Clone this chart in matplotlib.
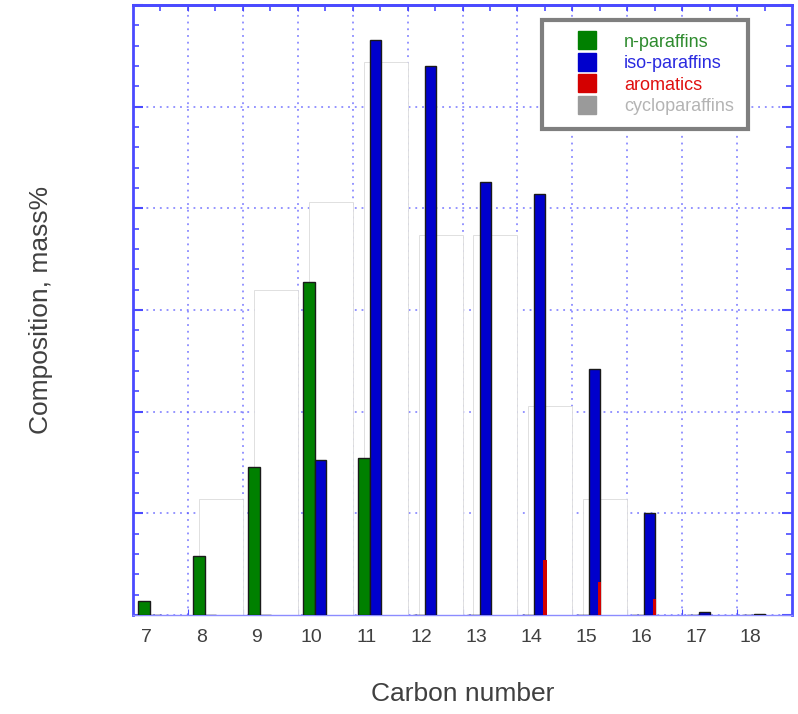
import numpy as np
import matplotlib
matplotlib.use('Agg')
import matplotlib.pyplot as plt
from matplotlib.lines import Line2D

plt.rcParams['font.family'] = ['Liberation Sans', 'DejaVu Sans']

# --- DATOS (mass%) ---
carbonos = [7, 8, 9, 10, 11, 12, 13, 14, 15, 16, 17, 18]
n_parafinas = [0.7, 2.9, 7.3, 16.4, 7.7, 0, 0, 0, 0, 0, 0, 0]
iso_parafinas = [0.0, 0.0, 0.0, 7.6, 28.3, 27.0, 21.3, 20.7, 12.1, 5.0, 0.15, 0.05]
aromaticos = [0, 0, 0, 0, 0, 0, 0, 2.7, 1.6, 0.8, 0, 0]
ciclo_parafinas = [0, 5.7, 16.0, 20.3, 27.2, 18.7, 18.7, 10.3, 5.7, 0, 0, 0]

nombres = ['n-paraffins', 'iso-paraffins', 'aromatics', 'cycloparaffins']
colores = ['#008000', '#0000cc', '#d40000', '#9a9a9a']
colores_texto = ['#2e8b2e', '#2a2ae0', '#e01010', '#b4b4b4']

AZUL_EJE = '#4a4aff'
x = np.array(carbonos, dtype=float)

fig = plt.figure(figsize=(7.98, 7.14), dpi=100)
ax = fig.add_axes([133 / 798, 1 - 615 / 714, 659 / 798, 610 / 714])

# ciclo-parafinas: barras blancas detras, solo un contorno gris muy tenue
ax.bar(x - 0.05, ciclo_parafinas, width=0.8, align='edge', color='white',
       edgecolor='#dadada', linewidth=0.6, zorder=2)
ax.bar(x - 0.16, n_parafinas, width=0.22, align='edge', color=colores[0],
       edgecolor='#1a1a1a', linewidth=1.0, zorder=3)
ax.bar(x + 0.06, iso_parafinas, width=0.20, align='edge', color=colores[1],
       edgecolor='#1a1a1a', linewidth=1.0, zorder=3)
ax.bar(x + 0.22, aromaticos, width=0.06, align='edge', color=colores[2],
       linewidth=0, zorder=4)

ax.set_xlim(6.75, 18.75)
ax.set_ylim(0, 30)

# grilla: lineas verticales entre carbonos, horizontales cada 5
ax.set_xticks(np.arange(7.75, 18.0, 1.0))
ax.set_xticklabels([])
ax.set_xticks(x, minor=True)
ax.set_xticklabels([str(c) for c in carbonos], minor=True)
ax.set_yticks(np.arange(0, 31, 5))
ax.set_yticks(np.arange(0, 31, 1), minor=True)
ax.set_yticklabels([])

ax.grid(True, which='major', color=AZUL_EJE, linestyle=(0, (1.2, 3.2)),
        linewidth=1.1, alpha=0.75, zorder=0)
ax.set_axisbelow(True)

ax.tick_params(axis='x', which='minor', length=0, pad=10,
               labelsize=14, labelcolor='#404040')
ax.tick_params(axis='x', which='major', direction='in', length=4,
               color=AZUL_EJE, bottom=True, top=True)
ax.tick_params(axis='y', which='major', direction='in', length=7, width=1.5,
               color=AZUL_EJE, left=True, right=True)
ax.tick_params(axis='y', which='minor', direction='in', length=4, width=1.2,
               color=AZUL_EJE, left=True, right=True)

secx = ax.secondary_xaxis('top')
secx.set_xticks(np.arange(7.25, 18.75, 0.5))
secx.tick_params(direction='in', length=4, width=1.2, color=AZUL_EJE,
                 labeltop=False)
secx.spines['top'].set_color(AZUL_EJE)
secx.spines['top'].set_linewidth(2)

for lado in ['left', 'right', 'top']:
    ax.spines[lado].set_color(AZUL_EJE)
    ax.spines[lado].set_linewidth(2)
ax.spines['bottom'].set_color('#8c8cff')
ax.spines['bottom'].set_linewidth(1)

ax.set_xlabel('Carbon number', fontsize=19, color='#404040', labelpad=26)
ax.set_ylabel('Composition, mass%', fontsize=19, color='#404040', labelpad=54)

# leyenda
manijas = [Line2D([], [], linestyle='none', marker='s', markersize=13,
                  markerfacecolor=c, markeredgecolor=c) for c in colores]
leg = ax.legend(manijas, nombres, loc='upper left',
                bbox_to_anchor=(542 / 798, 1 - 20 / 714),
                bbox_transform=fig.transFigure, borderaxespad=0,
                fontsize=13, handlelength=3.5, handletextpad=0.3,
                labelspacing=0.25, borderpad=0.75, fancybox=False,
                framealpha=1)
leg.get_frame().set_edgecolor('#7f7f7f')
leg.get_frame().set_linewidth(3)
for texto, c in zip(leg.get_texts(), colores_texto):
    texto.set_color(c)

fig.savefig('out.png', dpi=100)
